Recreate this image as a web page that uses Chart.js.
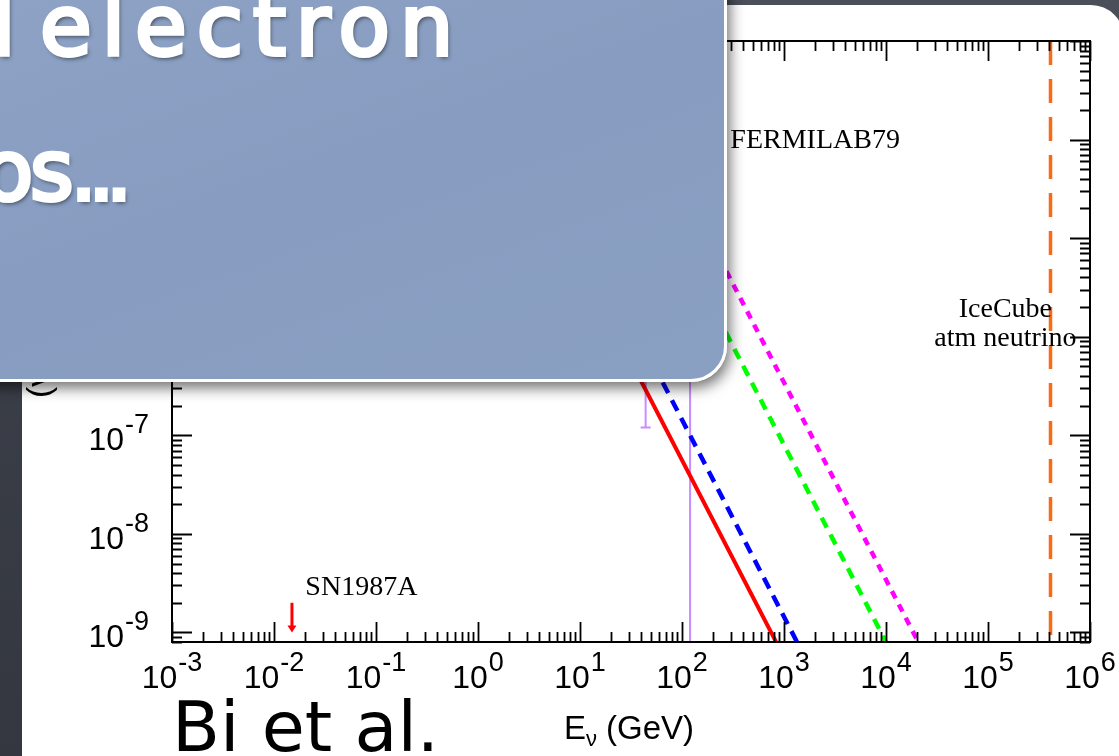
<!DOCTYPE html>
<html>
<head>
<meta charset="utf-8">
<script src="https://cdn.jsdelivr.net/npm/chart.js@4.4.1/dist/chart.umd.min.js"></script>
<style>
  html, body { margin: 0; padding: 0; }
  body {
    width: 1119px; height: 756px; overflow: hidden; position: relative;
    background: linear-gradient(180deg, #4b4f59 0%, #3b3f49 40%, #34373f 100%);
  }
  #panel {
    position: absolute; left: 22px; top: 5px; width: 1102px; height: 820px;
    background: #ffffff; border-radius: 33px;
  }
  #c { position: absolute; left: 0; top: 0; }
  #box {
    position: absolute; left: -40px; top: -40px; width: 767px; height: 422px;
    box-sizing: border-box; border: 3px solid #ffffff; border-radius: 36px;
    background: linear-gradient(160deg, #8ea3c5 0%, #879cc0 50%, #8aa0c2 100%);
    box-shadow: 3px 6px 14px rgba(0, 0, 0, 0.55);
  }
  .slide-text {
    position: absolute; margin: 0; white-space: pre;
    font-family: "DejaVu Sans", sans-serif; line-height: 1;
  }
  .chalk {
    font-size: 84px; color: #fff; -webkit-text-stroke: 4px #fff;
    text-shadow: 2px 3px 4px rgba(0,0,0,0.55);
  }
  #line1 { left: -38px; top: -16px; letter-spacing: 10px; word-spacing: -22px; }
  #line2 { left: -18px; top: 129px; letter-spacing: -3.4px; }
  #line2 .dots { letter-spacing: -9px; }
  #cite { left: 172px; top: 692px; font-size: 70px; color: #000; }
</style>
</head>
<body>
<div id="panel"></div>
<canvas id="c" width="1119" height="756"></canvas>
<div id="box"></div>
<div class="slide-text chalk" id="line1">d electron</div>
<div class="slide-text chalk" id="line2">os<span class="dots">...</span></div>
<div class="slide-text" id="cite">Bi et al.</div>

<script>
// Axis ranges
const xMin = 1e-3, xMax = 1e6;
const yMin = 8e-10, yMax = 1e-3;
const xTickExps = [-3, -2, -1, 0, 1, 2, 3, 4, 5, 6];
const yTickExps = [-9, -8, -7, -6, -5, -4, -3];

// Bounds on (v-c)/c versus neutrino energy E (GeV), power-law lines
const redE = [10, 1000];
const redD = [5.6e-6, 5.6e-10];
const blueE = [10, 2000];
const blueD = [1.44e-5, 3.6e-10];
const greenE = [100, 20000];
const greenD = [8e-6, 2e-10];
const magentaE = [200, 50000];
const magentaD = [8.57e-6, 1.37e-10];

// IceCube atmospheric neutrino energy reach
const iceE = [4.1e5, 4.1e5];
const iceD = [1e-3, 8e-10];

// Measurements with error bars
const errE = [44, 120];
const errHi = [3e-5, 3e-5];
const errLo = [1.2e-7, 5e-10];

// SN1987A upper limit arrow
const snE = [0.015];
const snFrom = [2e-9];
const snTo = [1e-9];

// Text labels placed in data coordinates
const notes = [
  { text: 'FERMILAB79', x: 298, y: 8.2e-5, align: 'left' },
  { text: 'IceCube', x: 1.48e5, y: 1.59e-6, align: 'center' },
  { text: 'atm neutrino', x: 1.48e5, y: 7.98e-7, align: 'center' },
  { text: 'SN1987A', x: 0.0203, y: 2.38e-9, align: 'left' }
];
const yTitle = '(v-c)/c';

const pts = (xs, ys) => xs.map((x, i) => ({ x: x, y: ys[i] }));

const SANS = '"Liberation Sans", Arial, Helvetica, sans-serif';
const SERIF = '"Liberation Serif", "Times New Roman", serif';

function powLabel(ctx, exp, x, y, align) {
  const base = '10', sup = String(exp);
  ctx.font = '32px ' + SANS;
  const wb = ctx.measureText(base).width;
  ctx.font = '27px ' + SANS;
  const ws = ctx.measureText(sup).width;
  const total = wb + 1 + ws;
  const left = align === 'center' ? x - total / 2 : x - total;
  ctx.textAlign = 'left';
  ctx.textBaseline = 'alphabetic';
  ctx.font = '32px ' + SANS;
  ctx.fillText(base, left, y);
  ctx.font = '27px ' + SANS;
  ctx.fillText(sup, left + wb + 1, y - 17);
}

const framePlugin = {
  id: 'frame',
  beforeDatasetsDraw(chart) {
    const { ctx, chartArea: a, scales: { x, y } } = chart;
    ctx.save();
    ctx.beginPath();
    ctx.rect(a.left, a.top, a.right - a.left, a.bottom - a.top);
    ctx.clip();
    ctx.strokeStyle = '#c98cff';
    ctx.lineWidth = 2;
    errE.forEach((e, i) => {
      const px = x.getPixelForValue(e);
      const yh = y.getPixelForValue(errHi[i]);
      const yl = y.getPixelForValue(errLo[i]);
      ctx.beginPath();
      ctx.moveTo(px, yh); ctx.lineTo(px, yl);
      ctx.moveTo(px - 5, yh); ctx.lineTo(px + 5, yh);
      ctx.moveTo(px - 5, yl); ctx.lineTo(px + 5, yl);
      ctx.stroke();
    });
    ctx.restore();
  },
  afterDatasetsDraw(chart) {
    const { ctx, chartArea: a, scales: { x, y } } = chart;
    ctx.save();

    // SN1987A arrow
    ctx.fillStyle = '#ff0000';
    ctx.strokeStyle = '#ff0000';
    snE.forEach((e, i) => {
      const px = x.getPixelForValue(e);
      const y0 = y.getPixelForValue(snFrom[i]);
      const y1 = y.getPixelForValue(snTo[i]);
      ctx.lineWidth = 3;
      ctx.beginPath();
      ctx.moveTo(px, y0); ctx.lineTo(px, y1 - 6);
      ctx.stroke();
      ctx.beginPath();
      ctx.moveTo(px - 4.5, y1 - 7);
      ctx.lineTo(px + 4.5, y1 - 7);
      ctx.lineTo(px, y1);
      ctx.closePath();
      ctx.fill();
    });

    // Frame
    ctx.strokeStyle = '#000';
    ctx.lineWidth = 2;
    ctx.strokeRect(a.left, a.top, a.right - a.left, a.bottom - a.top);

    // Inward ticks on all four sides
    ctx.lineWidth = 1.8;
    ctx.beginPath();
    for (let k = -3; k <= 6; k++) {
      for (let m = 1; m <= 9; m++) {
        const v = m * Math.pow(10, k);
        if (v < xMin * 0.999 || v > xMax * 1.001) continue;
        const px = Math.round(x.getPixelForValue(v)) + 0.5;
        const len = m === 1 ? 20 : 10;
        ctx.moveTo(px, a.bottom); ctx.lineTo(px, a.bottom - len);
        ctx.moveTo(px, a.top); ctx.lineTo(px, a.top + len);
      }
    }
    for (let k = -10; k <= -3; k++) {
      for (let m = 1; m <= 9; m++) {
        const v = m * Math.pow(10, k);
        if (v < yMin * 0.999 || v > yMax * 1.001) continue;
        const py = Math.round(y.getPixelForValue(v)) + 0.5;
        const len = m === 1 ? 20 : 10;
        ctx.moveTo(a.left, py); ctx.lineTo(a.left + len, py);
        ctx.moveTo(a.right, py); ctx.lineTo(a.right - len, py);
      }
    }
    ctx.stroke();

    // Tick labels
    ctx.fillStyle = '#000';
    xTickExps.forEach(k => powLabel(ctx, k, x.getPixelForValue(Math.pow(10, k)), a.bottom + 46, 'center'));
    yTickExps.forEach(k => {
      const py = y.getPixelForValue(Math.pow(10, k));
      if (py >= a.top + 5) powLabel(ctx, k, a.left - 23, py + 15, 'right');
    });

    // X axis title: E_nu (GeV)
    const cx = (a.left + a.right) / 2 - 2;
    const ty = 739;
    ctx.font = '33px ' + SANS;
    const wE = ctx.measureText('E').width;
    const wRest = ctx.measureText(' (GeV)').width;
    ctx.font = '22px ' + SANS;
    const wNu = ctx.measureText('ν').width;
    const lx = cx - (wE + wNu + wRest) / 2;
    ctx.textAlign = 'left';
    ctx.font = '33px ' + SANS;
    ctx.fillText('E', lx, ty);
    ctx.font = '22px ' + SANS;
    ctx.fillText('ν', lx + wE, ty + 7);
    ctx.font = '33px ' + SANS;
    ctx.fillText(' (GeV)', lx + wE + wNu, ty);

    // Y axis title (rotated)
    ctx.save();
    ctx.translate(50, 398);
    ctx.rotate(-Math.PI / 2);
    ctx.font = '34px ' + SANS;
    ctx.textAlign = 'left';
    ctx.fillText(yTitle, 0, 0);
    ctx.restore();

    // Annotations
    ctx.font = '28px ' + SERIF;
    ctx.fillStyle = '#000';
    notes.forEach(n => {
      ctx.textAlign = n.align;
      ctx.fillText(n.text, x.getPixelForValue(n.x), y.getPixelForValue(n.y));
    });

    ctx.restore();
  }
};

const lineStyle = { fill: false, tension: 0, pointRadius: 0, borderCapStyle: 'butt' };

new Chart(document.getElementById('c').getContext('2d'), {
  type: 'line',
  data: {
    datasets: [
      Object.assign({ label: 'red', data: pts(redE, redD), borderColor: '#ff0000', borderWidth: 4 }, lineStyle),
      Object.assign({ label: 'blue', data: pts(blueE, blueD), borderColor: '#0000ff', borderWidth: 4.5, borderDash: [12, 8] }, lineStyle),
      Object.assign({ label: 'green', data: pts(greenE, greenD), borderColor: '#00ff00', borderWidth: 4.5, borderDash: [11, 8] }, lineStyle),
      Object.assign({ label: 'magenta', data: pts(magentaE, magentaD), borderColor: '#ff00ff', borderWidth: 4.5, borderDash: [8, 7] }, lineStyle),
      Object.assign({ label: 'IceCube', data: pts(iceE, iceD), borderColor: '#fa6a14', borderWidth: 3.5, borderDash: [24, 14] }, lineStyle)
    ]
  },
  options: {
    responsive: false,
    animation: false,
    layout: { padding: { left: 172, right: 29, top: 41, bottom: 114 } },
    plugins: { legend: { display: false }, tooltip: { enabled: false } },
    scales: {
      x: { type: 'logarithmic', min: xMin, max: xMax, display: false },
      y: { type: 'logarithmic', min: yMin, max: yMax, display: false }
    }
  },
  plugins: [framePlugin]
});
</script>
</body>
</html>
